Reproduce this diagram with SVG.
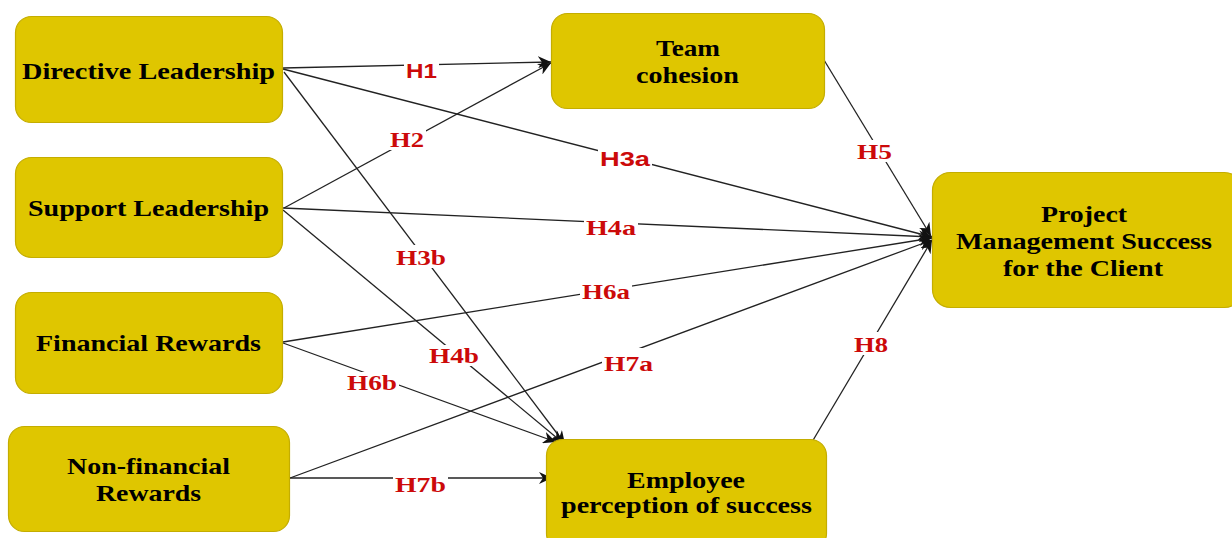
<svg xmlns="http://www.w3.org/2000/svg" width="1232" height="538" viewBox="0 0 1232 538">
<style>
.box{fill:#dfc600;stroke:#c4ad00;stroke-width:1.2}
.nt{font-family:"Liberation Serif","Times New Roman",serif;font-weight:bold;font-size:24px;fill:#000}
.ln{stroke:#222;stroke-width:1.3;fill:none;marker-end:url(#arr)}
.lbg{fill:#fff}
.ls{font-family:"Liberation Sans",Arial,sans-serif;font-weight:bold;font-size:21px;fill:#cc0a0a}
.lr{font-family:"Liberation Serif","Times New Roman",serif;font-weight:bold;font-size:22px;fill:#cc0a0a}
</style>
<defs>
<marker id="arr" markerWidth="14" markerHeight="12" refX="13" refY="6" orient="auto" markerUnits="userSpaceOnUse">
<path d="M0,0 L13,6 L0,12 L4,6 Z" fill="#111"/>
</marker>
</defs>
<rect width="1232" height="538" fill="#fff"/>
<g id="connectors">
<line class="ln" x1="283" y1="68" x2="551" y2="62"/>
<line class="ln" x1="284" y1="208" x2="551" y2="63"/>
<line class="ln" x1="283" y1="69" x2="932" y2="237"/>
<line class="ln" x1="284" y1="72" x2="565" y2="444"/>
<line class="ln" x1="283" y1="208" x2="932" y2="237"/>
<line class="ln" x1="283" y1="210" x2="563" y2="443"/>
<line class="ln" x1="824" y1="60" x2="931" y2="236"/>
<line class="ln" x1="283" y1="342" x2="932" y2="238"/>
<line class="ln" x1="283" y1="343" x2="556" y2="442"/>
<line class="ln" x1="290" y1="478" x2="932" y2="240"/>
<line class="ln" x1="290" y1="478" x2="552" y2="478"/>
<line class="ln" x1="812" y1="442" x2="932" y2="240"/>
<g id="labels">
<rect class="lbg" x="404" y="61" width="35" height="20"/>
<text class="ls" x="406" y="78" textLength="31" lengthAdjust="spacingAndGlyphs">H1</text>
<rect class="lbg" x="388" y="129" width="38" height="21"/>
<text class="lr" x="390" y="147" textLength="34" lengthAdjust="spacingAndGlyphs">H2</text>
<rect class="lbg" x="598" y="148" width="54" height="21"/>
<text class="ls" x="600" y="166" textLength="50" lengthAdjust="spacingAndGlyphs">H3a</text>
<rect class="lbg" x="394" y="245" width="54" height="23"/>
<text class="lr" x="396" y="265" textLength="50" lengthAdjust="spacingAndGlyphs">H3b</text>
<rect class="lbg" x="584" y="217" width="54" height="21"/>
<text class="lr" x="586" y="235" textLength="50" lengthAdjust="spacingAndGlyphs">H4a</text>
<rect class="lbg" x="427" y="345" width="54" height="21"/>
<text class="lr" x="429" y="363" textLength="50" lengthAdjust="spacingAndGlyphs">H4b</text>
<rect class="lbg" x="855" y="140" width="39" height="22"/>
<text class="lr" x="857" y="159" textLength="35" lengthAdjust="spacingAndGlyphs">H5</text>
<rect class="lbg" x="580" y="281" width="52" height="21"/>
<text class="lr" x="582" y="299" textLength="48" lengthAdjust="spacingAndGlyphs">H6a</text>
<rect class="lbg" x="345" y="372" width="54" height="21"/>
<text class="lr" x="347" y="390" textLength="50" lengthAdjust="spacingAndGlyphs">H6b</text>
<rect class="lbg" x="602" y="348" width="53" height="26"/>
<text class="lr" x="604" y="371" textLength="49" lengthAdjust="spacingAndGlyphs">H7a</text>
<rect class="lbg" x="393" y="473" width="55" height="22"/>
<text class="lr" x="395" y="492" textLength="51" lengthAdjust="spacingAndGlyphs">H7b</text>
<rect class="lbg" x="852" y="332" width="38" height="23"/>
<text class="lr" x="854" y="352" textLength="34" lengthAdjust="spacingAndGlyphs">H8</text>
</g>
</g>
<g id="directive">
<rect class="box" x="15.5" y="16.5" width="267" height="106" rx="16"/>
<text class="nt" x="22" y="79" textLength="253" lengthAdjust="spacingAndGlyphs">Directive Leadership</text>
</g>
<g id="support">
<rect class="box" x="15.5" y="157.5" width="267" height="100" rx="16"/>
<text class="nt" x="28" y="216" textLength="241" lengthAdjust="spacingAndGlyphs">Support Leadership</text>
</g>
<g id="financial">
<rect class="box" x="15.5" y="292.5" width="267" height="101" rx="16"/>
<text class="nt" x="36" y="351" textLength="225" lengthAdjust="spacingAndGlyphs">Financial Rewards</text>
</g>
<g id="nonfinancial">
<rect class="box" x="8.5" y="426.5" width="281" height="105" rx="16"/>
<text class="nt" x="67" y="474" textLength="163" lengthAdjust="spacingAndGlyphs">Non-financial</text>
<text class="nt" x="96" y="501" textLength="105" lengthAdjust="spacingAndGlyphs">Rewards</text>
</g>
<g id="team">
<rect class="box" x="551.5" y="13.5" width="273" height="95" rx="16"/>
<text class="nt" x="656" y="56" textLength="64" lengthAdjust="spacingAndGlyphs">Team</text>
<text class="nt" x="636" y="83" textLength="103" lengthAdjust="spacingAndGlyphs">cohesion</text>
</g>
<g id="pms">
<rect class="box" x="932.5" y="172.5" width="310" height="135" rx="18"/>
<text class="nt" x="1041" y="222" textLength="86" lengthAdjust="spacingAndGlyphs">Project</text>
<text class="nt" x="956" y="249" textLength="256" lengthAdjust="spacingAndGlyphs">Management Success</text>
<text class="nt" x="1003" y="276" textLength="160" lengthAdjust="spacingAndGlyphs">for the Client</text>
</g>
<g id="employee">
<rect class="box" x="546.5" y="439.5" width="280" height="110" rx="16"/>
<text class="nt" x="627" y="488" textLength="118" lengthAdjust="spacingAndGlyphs">Employee</text>
<text class="nt" x="561" y="513" textLength="251" lengthAdjust="spacingAndGlyphs">perception of success</text>
</g>
</svg>
